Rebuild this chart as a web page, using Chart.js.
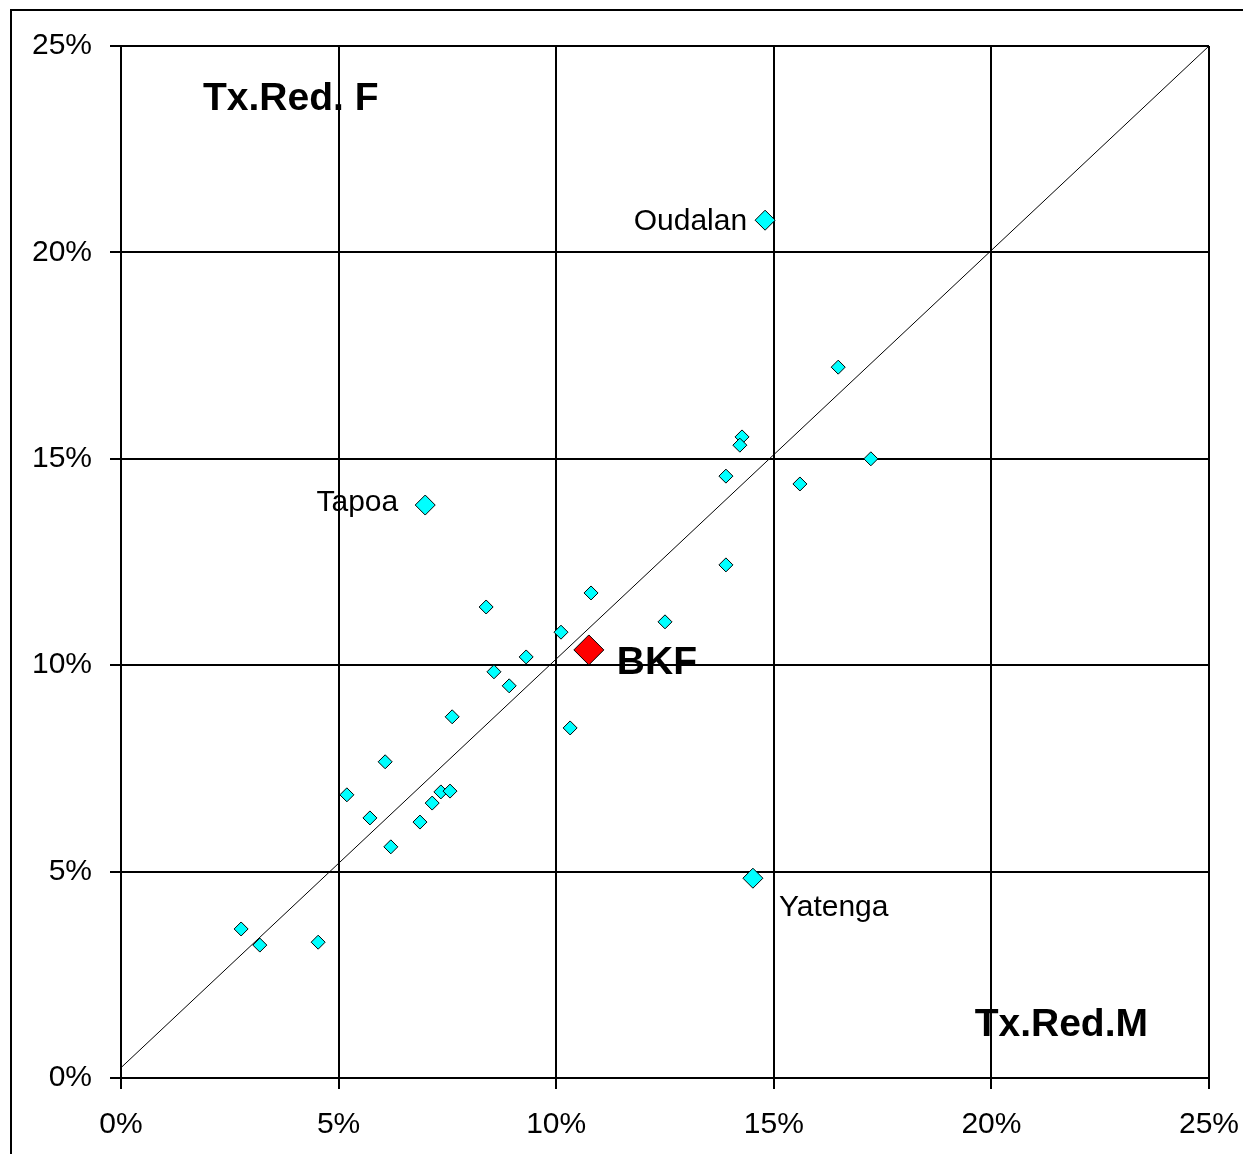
<!DOCTYPE html>
<html>
<head>
<meta charset="utf-8">
<script src="https://cdn.jsdelivr.net/npm/chart.js@4.4.1/dist/chart.umd.min.js"></script>
<style>
  html, body { margin: 0; padding: 0; background: #fff; }
  #wrap { position: relative; width: 1243px; height: 1154px; overflow: hidden; }
  #frame { position: absolute; left: 10px; top: 9px; width: 1300px; height: 1300px;
           border-left: 2px solid #000; border-top: 2px solid #000; }
  canvas { position: absolute; left: 0; top: 0; }
</style>
</head>
<body>
<div id="wrap">
  <div id="frame"></div>
  <canvas id="myChart" width="1243" height="1154"></canvas>
</div>
<script>
// taux (%) : hommes en x, femmes en y
var provM = [16.48, 14.27, 14.22, 13.90, 17.23, 15.60, 13.90, 10.80, 12.50, 10.11,
             8.39, 9.31, 8.57, 8.92, 10.32, 7.61, 6.07, 5.19, 5.72, 7.35,
             7.56, 7.15, 6.87, 6.20, 2.76, 3.19, 4.53];
var provF = [17.22, 15.53, 15.33, 14.58, 15.00, 14.39, 12.43, 11.75, 11.05, 10.80,
             11.41, 10.20, 9.84, 9.50, 8.48, 8.75, 7.66, 6.86, 6.30, 6.93,
             6.95, 6.66, 6.20, 5.60, 3.61, 3.22, 3.29];
var outlierNames = ['Oudalan', 'Tapoa', 'Yatenga'];
var outlierM = [14.80, 6.99, 14.52];
var outlierF = [20.78, 13.88, 4.84];
var natName = 'BKF';
var natM = [10.75];
var natF = [10.37];
var diagM = [0, 25];
var diagF = [0.25, 25];
var tickValues = [0, 5, 10, 15, 20, 25];
var titleF = 'Tx.Red. F';
var titleM = 'Tx.Red.M';

function pts(xs, ys) {
    return xs.map(function(v, i) { return { x: v, y: ys[i] }; });
}

var FONT = '"Liberation Sans", Arial, sans-serif';

// textes dans le graphique
var labelPlugin = {
    id: 'labelPlugin',
    afterDatasetsDraw: function(chart) {
        var ctx = chart.ctx;
        var sx = chart.scales.x, sy = chart.scales.y, ca = chart.chartArea;
        ctx.save();
        ctx.fillStyle = '#000';
        ctx.textBaseline = 'middle';

        ctx.font = '30px ' + FONT;
        var opts = [
            { align: 'right', dx: -18, dy: 2 },
            { align: 'right', dx: -27, dy: -2 },
            { align: 'left', dx: 26, dy: 30 }
        ];
        outlierNames.forEach(function(name, i) {
            ctx.textAlign = opts[i].align;
            ctx.fillText(name, sx.getPixelForValue(outlierM[i]) + opts[i].dx,
                         sy.getPixelForValue(outlierF[i]) + opts[i].dy);
        });

        ctx.font = 'bold 39px ' + FONT;
        ctx.textAlign = 'left';
        ctx.fillText(natName, sx.getPixelForValue(natM[0]) + 28, sy.getPixelForValue(natF[0]) + 13);
        ctx.fillText(titleF, ca.left + 82, ca.top + 53);
        ctx.textAlign = 'right';
        ctx.fillText(titleM, ca.right - 61, ca.bottom - 53);
        ctx.restore();
    }
};

var axisStyle = function(fit) {
    return {
        type: 'linear',
        min: 0,
        max: 25,
        afterBuildTicks: function(scale) {
            scale.ticks = tickValues.map(function(v) { return { value: v }; });
        },
        afterFit: fit,
        ticks: {
            callback: function(v) { return v + '%'; },
            color: '#000',
            padding: 18,
            font: { family: FONT, size: 30 }
        },
        grid: {
            color: '#000',
            lineWidth: 2,
            tickLength: 11,
            drawTicks: true
        },
        border: { display: true, color: '#000', width: 2 }
    };
};

var ctx = document.getElementById('myChart').getContext('2d');
var myChart = new Chart(ctx, {
    type: 'scatter',
    data: {
        datasets: [{
                label: natName,
                data: pts(natM, natF),
                pointStyle: 'rectRot',
                pointRadius: 15,
                backgroundColor: '#ff0000',
                borderColor: '#000',
                borderWidth: 1
            },
            {
                label: 'outliers',
                data: pts(outlierM, outlierF),
                pointStyle: 'rectRot',
                pointRadius: 10,
                backgroundColor: '#00ffff',
                borderColor: '#000',
                borderWidth: 1
            },
            {
                label: 'provinces',
                data: pts(provM, provF),
                pointStyle: 'rectRot',
                pointRadius: 7,
                backgroundColor: '#00ffff',
                borderColor: '#000',
                borderWidth: 1
            },
            {
                label: 'diagonale',
                data: pts(diagM, diagF),
                showLine: true,
                borderColor: '#000',
                borderWidth: 1,
                pointRadius: 0
            }
        ]
    },
    options: {
        responsive: false,
        animation: false,
        layout: { padding: { left: 0, top: 46, right: 34, bottom: 0 } },
        plugins: {
            legend: { display: false },
            tooltip: { enabled: false }
        },
        scales: {
            x: axisStyle(function(s) { s.height = 76; s.paddingLeft = 0; s.paddingRight = 0; }),
            y: axisStyle(function(s) { s.width = 121; s.paddingTop = 0; s.paddingBottom = 0; })
        }
    },
    plugins: [labelPlugin]
});
</script>
</body>
</html>
